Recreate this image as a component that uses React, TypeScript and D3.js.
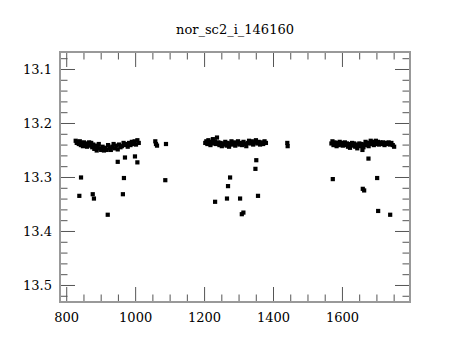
import React from "react";
import * as d3 from "d3";

// light curve: time (x) vs magnitude (y, inverted)
const title = "nor_sc2_i_146160";

const bandA: [number, number][] = [
  [826, 13.232], [829, 13.236], [832, 13.234], [835, 13.238], [838, 13.233], [841, 13.24],
  [844, 13.236], [847, 13.242], [850, 13.235], [853, 13.24], [856, 13.237], [859, 13.243],
  [862, 13.238], [865, 13.235], [868, 13.241], [871, 13.236], [874, 13.244], [877, 13.239],
  [880, 13.247], [884, 13.241], [887, 13.25], [890, 13.244], [893, 13.238], [897, 13.246],
  [900, 13.249], [904, 13.243], [908, 13.25], [912, 13.245], [916, 13.249], [920, 13.24],
  [924, 13.246], [928, 13.249], [932, 13.243], [936, 13.238], [940, 13.246], [944, 13.241],
  [948, 13.248], [952, 13.239], [956, 13.244], [960, 13.242], [965, 13.236], [969, 13.24],
  [973, 13.238], [977, 13.243], [981, 13.236], [985, 13.24], [989, 13.234], [993, 13.238],
  [997, 13.233], [1001, 13.239], [1005, 13.231], [1009, 13.236], [1057, 13.233], [1059, 13.238],
  [1062, 13.241], [1088, 13.238],
];

const bandB: [number, number][] = [
  [1202, 13.236], [1205, 13.233], [1208, 13.238], [1211, 13.231], [1214, 13.235], [1217, 13.24],
  [1220, 13.234], [1224, 13.229], [1227, 13.237], [1230, 13.233], [1233, 13.238], [1236, 13.226],
  [1240, 13.235], [1243, 13.24], [1246, 13.236], [1250, 13.242], [1253, 13.237], [1257, 13.239],
  [1260, 13.234], [1264, 13.241], [1267, 13.236], [1271, 13.243], [1274, 13.238], [1278, 13.233],
  [1281, 13.239], [1285, 13.235], [1289, 13.241], [1293, 13.237], [1297, 13.233], [1301, 13.239],
  [1305, 13.236], [1309, 13.24], [1313, 13.234], [1317, 13.238], [1321, 13.242], [1325, 13.236],
  [1329, 13.232], [1333, 13.237], [1337, 13.233], [1341, 13.239], [1345, 13.235], [1349, 13.231],
  [1353, 13.237], [1357, 13.234], [1361, 13.239], [1366, 13.235], [1370, 13.238], [1374, 13.233],
  [1378, 13.236], [1440, 13.236], [1441, 13.242],
];

const bandC: [number, number][] = [
  [1568, 13.237], [1571, 13.233], [1574, 13.24], [1577, 13.235], [1580, 13.238], [1583, 13.242],
  [1586, 13.236], [1589, 13.24], [1592, 13.234], [1595, 13.239], [1598, 13.236], [1601, 13.241],
  [1604, 13.238], [1607, 13.235], [1610, 13.24], [1613, 13.237], [1616, 13.243], [1619, 13.238],
  [1622, 13.245], [1625, 13.239], [1628, 13.236], [1631, 13.241], [1634, 13.237], [1637, 13.243],
  [1640, 13.239], [1643, 13.246], [1646, 13.24], [1649, 13.237], [1652, 13.242], [1655, 13.238],
  [1658, 13.249], [1661, 13.244], [1664, 13.239], [1667, 13.234], [1670, 13.24], [1673, 13.236],
  [1676, 13.242], [1679, 13.236], [1682, 13.232], [1685, 13.238], [1688, 13.234], [1691, 13.24],
  [1694, 13.236], [1697, 13.232], [1700, 13.238], [1703, 13.234], [1706, 13.239], [1710, 13.235],
  [1714, 13.238], [1718, 13.235], [1722, 13.24], [1726, 13.236], [1730, 13.238], [1734, 13.235],
  [1738, 13.239], [1742, 13.236], [1746, 13.24], [1750, 13.243],
];

// points that drop below the main band
const outliers: [number, number][] = [
  [948, 13.271], [969, 13.263], [998, 13.261], [1005, 13.272], [841.5, 13.3], [966, 13.301],
  [1086, 13.305], [836.6, 13.334], [875.5, 13.331], [879, 13.339], [963, 13.331], [919, 13.369],
  [1350, 13.268], [1347.5, 13.284], [1274, 13.3], [1268, 13.316], [1230.5, 13.345], [1265, 13.339],
  [1303, 13.339], [1355, 13.334], [1308, 13.368], [1312.6, 13.365],
  [1675.5, 13.265], [1572, 13.303], [1700.7, 13.301], [1659, 13.321], [1663, 13.324],
  [1703.6, 13.362], [1738.5, 13.369],
];

const xMajor = [800, 1000, 1200, 1400, 1600];
const yMajor = [13.1, 13.2, 13.3, 13.4, 13.5];

const W = 460, H = 340;
const left = 60, right = 410, top = 52, bottom = 302;

export default function App() {
  const x = d3.scaleLinear().domain([780.5, 1796]).range([left, right]);
  const y = d3.scaleLinear().domain([13.0676, 13.5306]).range([top, bottom]);

  const xMinor = d3.range(800, 1796, 50).filter((v) => v % 200 !== 0 || v > 1600);
  const yMinor = d3.range(13.08, 13.53, 0.02).filter((v) => Math.abs(v * 10 - Math.round(v * 10)) > 0.01);

  const pts = [...bandA, ...bandB, ...bandC, ...outliers];
  const s = 4.2;
  const tickC = "#555";
  const font = "'DejaVu Serif', serif";

  return (
    <svg width={W} height={H} style={{ position: "absolute", left: 0, top: 0, background: "#fff" }}>
      <text x={(left + right) / 2} y={34} textAnchor="middle" fontFamily={font} fontSize={13} fill="#000">
        {title}
      </text>
      <g stroke={tickC} strokeWidth={1}>
        {xMajor.map((v) => (
          <g key={"xM" + v}>
            <line x1={x(v)} x2={x(v)} y1={bottom} y2={bottom - 15} />
            <line x1={x(v)} x2={x(v)} y1={top} y2={top + 15} />
          </g>
        ))}
        {xMinor.map((v) => (
          <g key={"xm" + v}>
            <line x1={x(v)} x2={x(v)} y1={bottom} y2={bottom - 7.5} />
            <line x1={x(v)} x2={x(v)} y1={top} y2={top + 7.5} />
          </g>
        ))}
        {yMajor.map((v) => (
          <g key={"yM" + v}>
            <line x1={left} x2={left + 15} y1={y(v)} y2={y(v)} />
            <line x1={right} x2={right - 15} y1={y(v)} y2={y(v)} />
          </g>
        ))}
        {yMinor.map((v) => (
          <g key={"ym" + v}>
            <line x1={left} x2={left + 7.5} y1={y(v)} y2={y(v)} />
            <line x1={right} x2={right - 7.5} y1={y(v)} y2={y(v)} />
          </g>
        ))}
      </g>
      <rect x={left} y={top} width={right - left} height={bottom - top} fill="none" stroke="#999" strokeWidth={2} />
      {xMajor.map((v) => (
        <text key={"xl" + v} x={x(v)} y={322} textAnchor="middle" fontFamily={font} fontSize={13} fill="#000">
          {v}
        </text>
      ))}
      {yMajor.map((v) => (
        <text key={"yl" + v} x={52} y={y(v) + 5} textAnchor="end" fontFamily={font} fontSize={13} fill="#000">
          {v.toFixed(1)}
        </text>
      ))}
      <g fill="#000">
        {pts.map(([t, m], i) => (
          <rect key={i} x={x(t) - s / 2} y={y(m) - s / 2} width={s} height={s} />
        ))}
      </g>
    </svg>
  );
}
